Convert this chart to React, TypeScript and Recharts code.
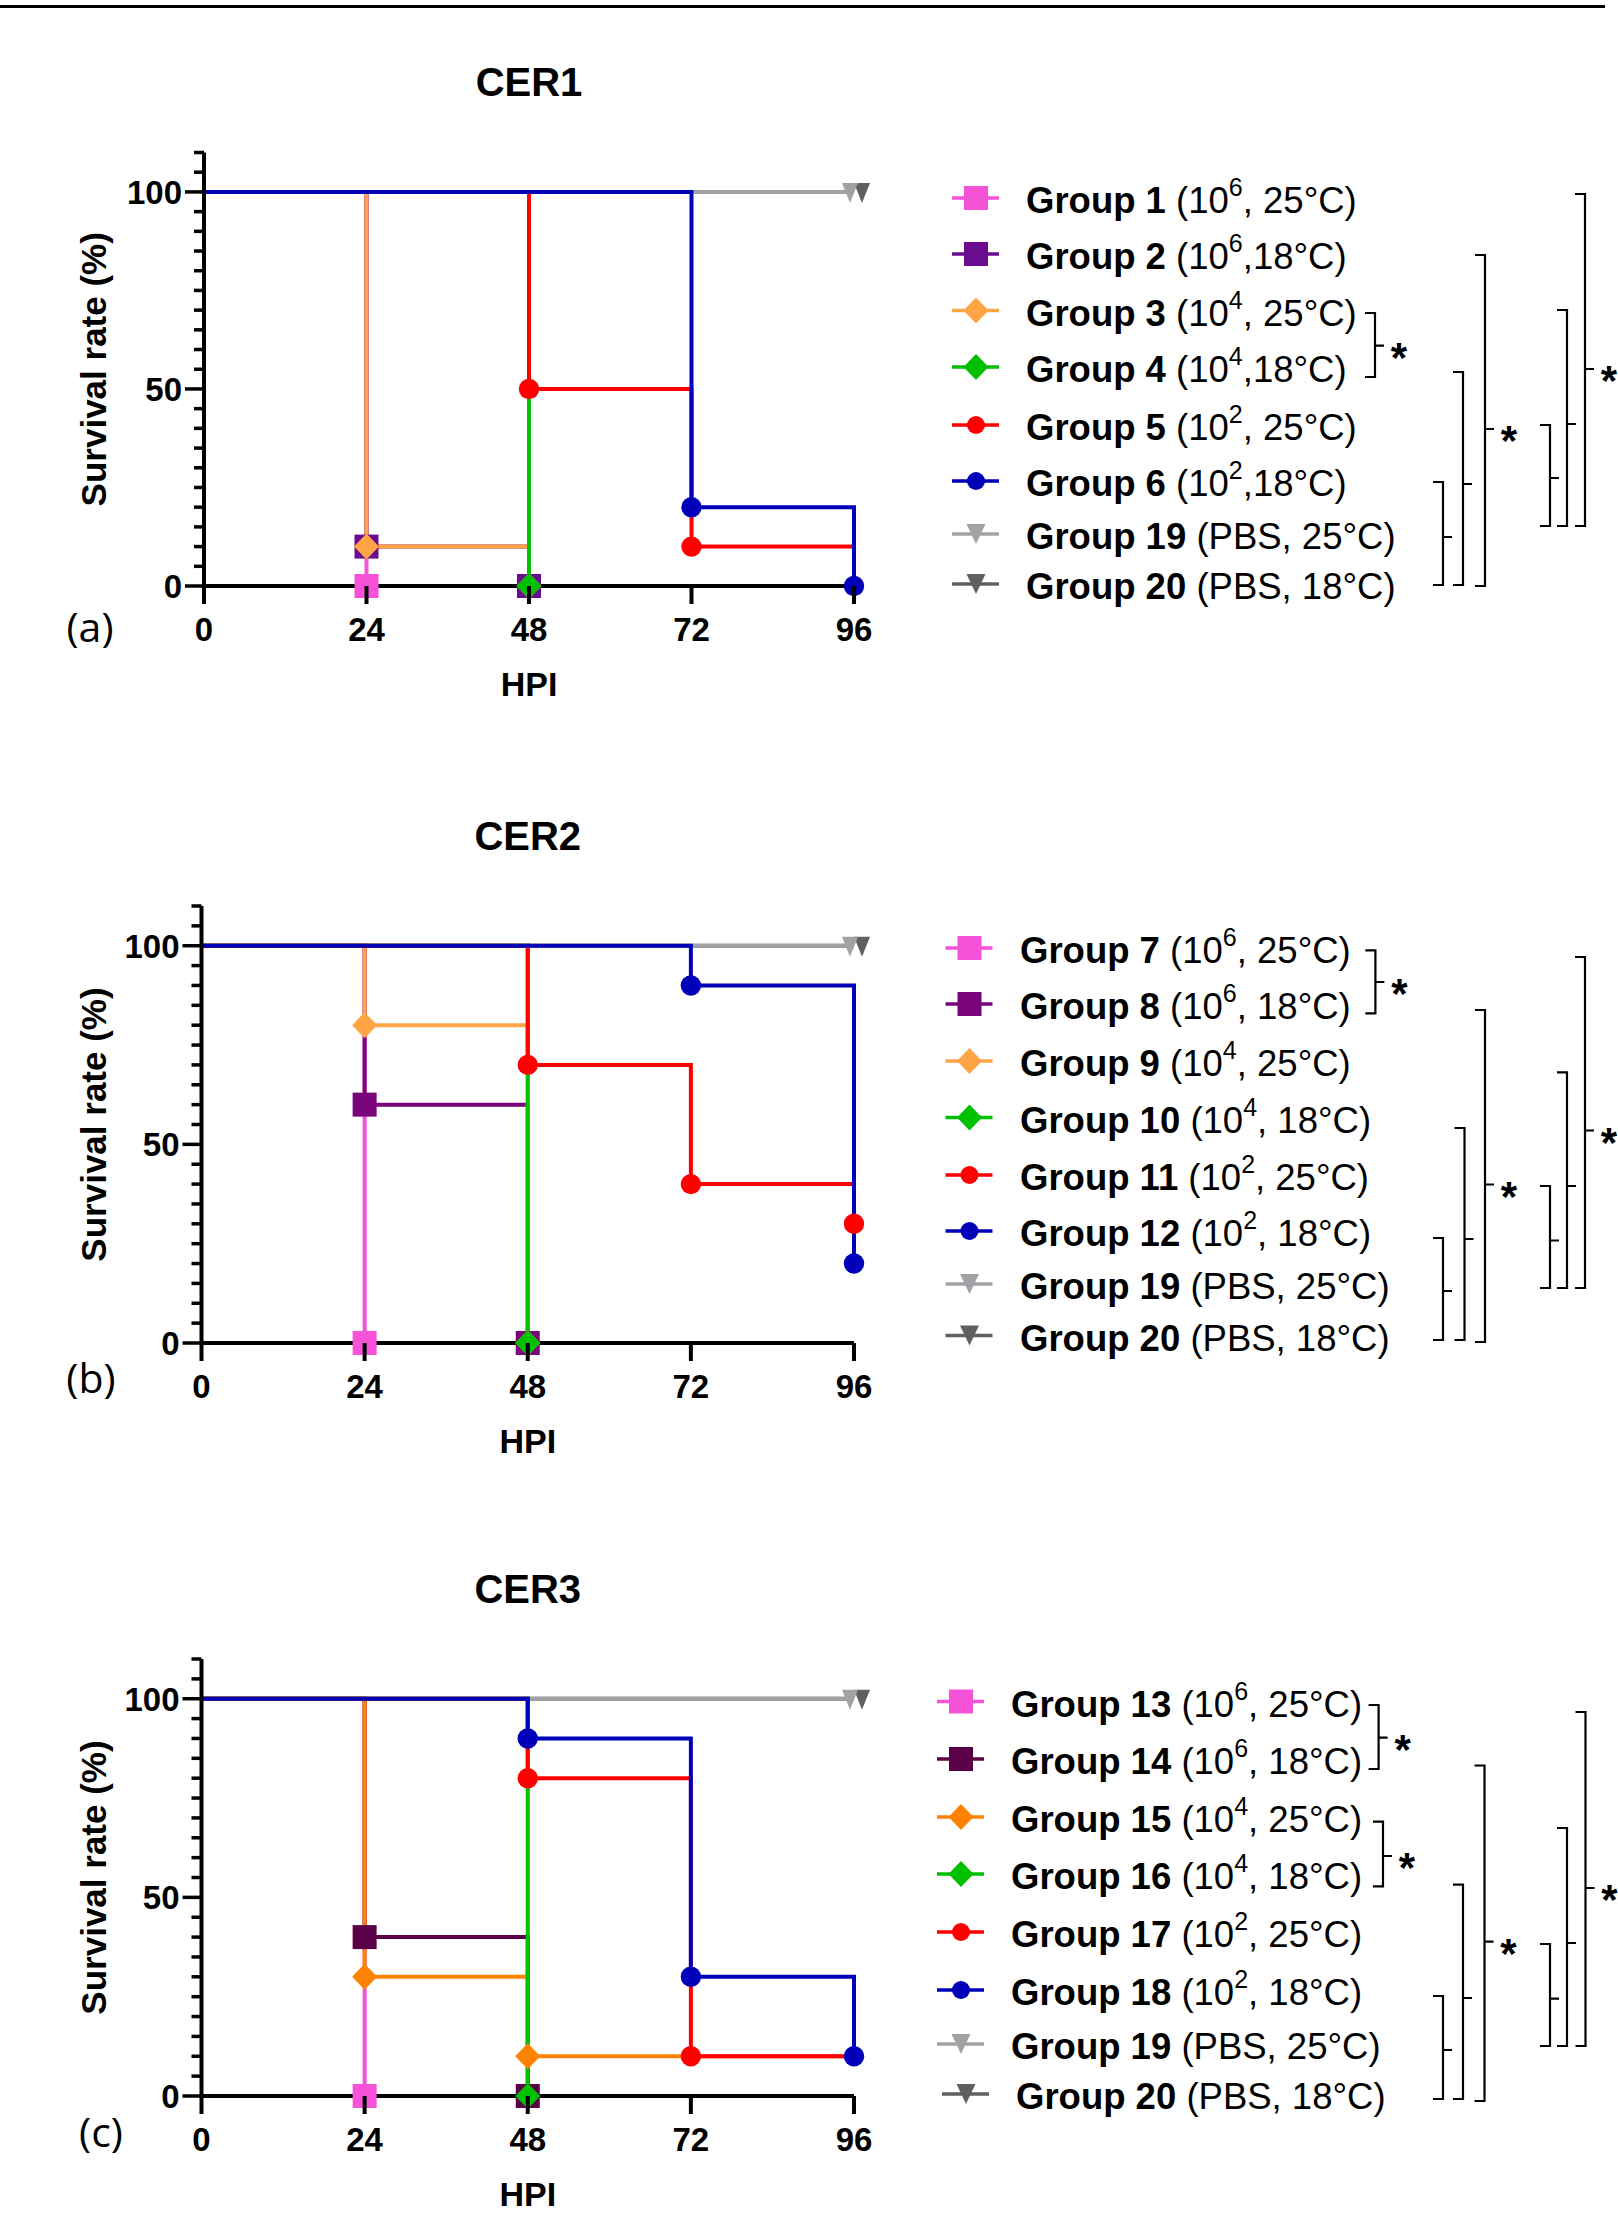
import React from 'react';
import { LineChart, Line, XAxis, YAxis, Customized } from 'recharts';

// ---------------- DATA ----------------
const HPI_TIMES = [0, 24, 48, 72, 96];
const X_TICKS = [0, 24, 48, 72, 96];
const Y_TICKS = [0, 5, 10, 15, 20, 25, 30, 35, 40, 45, 50, 55, 60, 65, 70, 75, 80, 85, 90, 95, 100, 105, 110];
const Y_LABELED_TICKS = [0, 50, 100];

const TITLES = ['CER1', 'CER2', 'CER3'];
const PANEL_LETTERS = ['(a)', '(b)', '(c)'];

// CER1
const CER1_GROUPS = ['Group 1', 'Group 2', 'Group 3', 'Group 4', 'Group 5', 'Group 6', 'Group 19', 'Group 20'];
const CER1_CONDITIONS = ['(10^6, 25°C)', '(10^6,18°C)', '(10^4, 25°C)', '(10^4,18°C)', '(10^2, 25°C)', '(10^2,18°C)', '(PBS, 25°C)', '(PBS, 18°C)'];
const CER1_SURVIVAL = [
  [100, 0, null, null, null],
  [100, 10, 0, null, null],
  [100, 10, 0, null, null],
  [100, 100, 0, null, null],
  [100, 100, 50, 10, 10],
  [100, 100, 100, 20, 0],
  [100, 100, 100, 100, 100],
  [100, 100, 100, 100, 100],
];
const CER1_MARKER_TIMES = [[24], [24, 48], [24, 48], [48], [48, 72], [72, 96], [96], [96]];

// CER2
const CER2_GROUPS = ['Group 7', 'Group 8', 'Group 9', 'Group 10', 'Group 11', 'Group 12', 'Group 19', 'Group 20'];
const CER2_CONDITIONS = ['(10^6, 25°C)', '(10^6, 18°C)', '(10^4, 25°C)', '(10^4, 18°C)', '(10^2, 25°C)', '(10^2, 18°C)', '(PBS, 25°C)', '(PBS, 18°C)'];
const CER2_SURVIVAL = [
  [100, 0, null, null, null],
  [100, 60, 0, null, null],
  [100, 80, 0, null, null],
  [100, 100, 0, null, null],
  [100, 100, 70, 40, 30],
  [100, 100, 100, 90, 20],
  [100, 100, 100, 100, 100],
  [100, 100, 100, 100, 100],
];
const CER2_MARKER_TIMES = [[24], [24, 48], [24, 48], [48], [48, 72, 96], [72, 96], [96], [96]];

// CER3
const CER3_GROUPS = ['Group 13', 'Group 14', 'Group 15', 'Group 16', 'Group 17', 'Group 18', 'Group 19', 'Group 20'];
const CER3_CONDITIONS = ['(10^6, 25°C)', '(10^6, 18°C)', '(10^4, 25°C)', '(10^4, 18°C)', '(10^2, 25°C)', '(10^2, 18°C)', '(PBS, 25°C)', '(PBS, 18°C)'];
const CER3_SURVIVAL = [
  [100, 0, null, null, null],
  [100, 40, 0, null, null],
  [100, 30, 10, 10, 10],
  [100, 100, 0, null, null],
  [100, 100, 80, 10, 10],
  [100, 100, 90, 30, 10],
  [100, 100, 100, 100, 100],
  [100, 100, 100, 100, 100],
];
const CER3_MARKER_TIMES = [[24], [24, 48], [24, 48], [48], [48, 72], [48, 72, 96], [96], [96]];

// ---------------- STYLES / LAYOUT ----------------
const FONT = "'Liberation Sans', Arial, Helvetica, sans-serif";
const CER1_COLORS = ['#F652D8', '#6A0C90', '#FFA444', '#00C000', '#FF0000', '#0000B8', '#A2A2A6', '#5F5F5F'];
const CER2_COLORS = ['#F652D8', '#7A057A', '#FFA444', '#00C000', '#FF0000', '#0000B8', '#A2A2A6', '#5F5F5F'];
const CER3_COLORS = ['#F652D8', '#5A0048', '#FF8200', '#00C000', '#FF0000', '#0000B8', '#A2A2A6', '#5F5F5F'];
const GROUP_SHAPES = ['square', 'square', 'diamond', 'diamond', 'circle', 'circle', 'tri', 'tri'];
const END_MARK_DX = [0, 0, 0, 0, 0, 0, -4, 8];
const DRAW_ORDER = [7, 6, 0, 1, 2, 3, 4, 5];

const PANELS = [
  {
    groups: CER1_GROUPS, conds: CER1_CONDITIONS, surv: CER1_SURVIVAL, marks: CER1_MARKER_TIMES, colors: CER1_COLORS,
    top: 0, height: 750, plotLeft: 204, plotRight: 854, plotTop: 152.5, plotBottom: 586,
    letter: [90, 630], iconX: 976, textX: 1026, lastShift: 0,
    rows: [200, 256, 312.5, 369, 427, 483, 536, 586],
    brackets: [
      [1375, 313, 377, 345.6, 1], [1443, 482, 585, 537, 0], [1463, 372, 585, 484, 0], [1485, 255, 586, 429, 1],
      [1550, 425, 526, 478, 0], [1567, 310, 526, 424, 0], [1585, 194, 526, 369, 1],
    ],
  },
  {
    groups: CER2_GROUPS, conds: CER2_CONDITIONS, surv: CER2_SURVIVAL, marks: CER2_MARKER_TIMES, colors: CER2_COLORS,
    top: 755, height: 750, plotLeft: 201.5, plotRight: 854, plotTop: 906, plotBottom: 1343,
    letter: [91, 1381], iconX: 969.5, textX: 1020, lastShift: 0,
    rows: [950, 1006, 1063, 1119.5, 1177, 1233, 1286, 1337.6],
    brackets: [
      [1375.4, 950.4, 1013.4, 982, 1], [1443, 1238, 1340, 1291, 0], [1464.5, 1128, 1340, 1239, 0], [1485, 1010, 1342, 1184.5, 1],
      [1550, 1186, 1288, 1240.5, 0], [1567, 1072.4, 1288, 1186, 0], [1585, 957, 1288, 1130.5, 1],
    ],
  },
  {
    groups: CER3_GROUPS, conds: CER3_CONDITIONS, surv: CER3_SURVIVAL, marks: CER3_MARKER_TIMES, colors: CER3_COLORS,
    top: 1508, height: 731, plotLeft: 201.5, plotRight: 854, plotTop: 1659, plotBottom: 2096,
    letter: [101, 2135], iconX: 961, textX: 1011, lastShift: 5,
    rows: [1703.5, 1761, 1819, 1876, 1934, 1992, 2046, 2096],
    brackets: [
      [1378.6, 1705, 1769, 1737.7, 1], [1383, 1821.6, 1886.3, 1856, 1], [1443, 1996, 2099, 2050, 0], [1463, 1884.6, 2099, 1998, 0],
      [1484.5, 1765.5, 2101, 1941.7, 1], [1550, 1944, 2046, 1998.7, 0], [1567, 1828, 2046, 1943, 0], [1585.5, 1712, 2046, 1888, 1],
    ],
  },
];

// ---------------- COMPONENTS ----------------
function Marker({ shape, x, y, color, legend }: any) {
  if (shape === 'square') {
    const s = legend ? 24 : 24;
    return <rect x={x - s / 2} y={y - s / 2} width={s} height={s} fill={color} />;
  }
  if (shape === 'diamond') {
    const w = 12.5, h = 13;
    return <polygon points={`${x},${y - h} ${x + w},${y} ${x},${y + h} ${x - w},${y}`} fill={color} />;
  }
  if (shape === 'circle') {
    return <circle cx={x} cy={y} r={legend ? 9 : 10.2} fill={color} />;
  }
  const w = legend ? 19 : 16, up = legend ? 10 : 9, dn = legend ? 10 : 11;
  return <polygon points={`${x - w / 2},${y - up} ${x + w / 2},${y - up} ${x},${y + dn}`} fill={color} />;
}

const makeDot = (k: number, color: string, shape: string, marks: number[], dx: number) => (p: any) => {
  const key = `dot-${k}-${p.index}`;
  if (p.cx == null || p.cy == null || p.payload == null || p.payload[`g${k}`] == null || !marks.includes(p.payload.t)) {
    return <g key={key} />;
  }
  return (
    <g key={key}>
      <Marker shape={shape} x={p.cx + dx} y={p.cy} color={color} />
    </g>
  );
};

const YTick = (p: any) => {
  const v = p.payload.value;
  const major = Y_LABELED_TICKS.includes(v);
  return (
    <g>
      <line x1={p.x - (major ? 19 : 10)} x2={p.x} y1={p.y} y2={p.y} stroke="#000" strokeWidth={3.5} />
      {major && (
        <text x={p.x - 22} y={p.y + 12} textAnchor="end" fontSize={33} fontWeight="bold" fontFamily={FONT} fill="#000">
          {v}
        </text>
      )}
    </g>
  );
};

const XTick = (p: any) => {
  const v = p.payload.value;
  return (
    <g>
      <line x1={p.x} x2={p.x} y1={p.y} y2={p.y + 18} stroke="#000" strokeWidth={4} />
      <text x={p.x} y={p.y + 55} textAnchor="middle" fontSize={33} fontWeight="bold" fontFamily={FONT} fill="#000">
        {v}
      </text>
    </g>
  );
};

function CondText({ cond }: { cond: string }) {
  const m = cond.match(/^(.*?)\^(\d)(.*)$/);
  if (!m) return <tspan>{' ' + cond}</tspan>;
  return (
    <>
      <tspan>{' ' + m[1]}</tspan>
      <tspan dy={-17} fontSize={25}>{m[2]}</tspan>
      <tspan dy={17}>{m[3]}</tspan>
    </>
  );
}

function Decor({ cfg, idx }: any) {
  const T = cfg.top;
  const cx = (cfg.plotLeft + cfg.plotRight) / 2;
  const y100 = cfg.plotBottom - ((cfg.plotBottom - cfg.plotTop) * 100) / 110;
  const yMid = (cfg.plotTop + cfg.plotBottom) / 2 - T;
  return (
    <g fontFamily={FONT}>
      <text x={cx} y={y100 - 110 + 14 - T} textAnchor="middle" fontSize={40} fontWeight="bold" fill="#000">
        {TITLES[idx]}
      </text>
      <text x={cx} y={cfg.plotBottom + 98 + 12 - T} textAnchor="middle" fontSize={34} fontWeight="bold" fill="#000">
        HPI
      </text>
      <text
        x={106}
        y={yMid}
        transform={`rotate(-90, 106, ${yMid})`}
        textAnchor="middle"
        fontSize={35}
        fontWeight="bold"
        fill="#000"
      >
        Survival rate (%)
      </text>
      <text x={cfg.letter[0]} y={cfg.letter[1] + 12 - T} textAnchor="middle" fontSize={41} fontFamily="'Open Sans', 'Noto Sans', sans-serif" fill="#000">
        {PANEL_LETTERS[idx]}
      </text>
      {cfg.groups.map((g: string, i: number) => {
        const ry = cfg.rows[i] - T;
        const shift = i === 7 ? cfg.lastShift : 0;
        const ix = cfg.iconX + shift;
        return (
          <g key={g}>
            <line x1={ix - 24} x2={ix + 23} y1={ry - 2} y2={ry - 2} stroke={cfg.colors[i]} strokeWidth={3.5} />
            <Marker shape={GROUP_SHAPES[i]} x={ix} y={ry - 2} color={cfg.colors[i]} legend />
            <text x={cfg.textX + shift} y={ry + 13} fontSize={36.5} fill="#000">
              <tspan fontWeight="bold">{g}</tspan>
              <CondText cond={cfg.conds[i]} />
            </text>
          </g>
        );
      })}
      {cfg.brackets.map((b: number[], i: number) => {
        const [vx, y1, y2, mid, star] = b;
        return (
          <g key={`b${i}`}>
            <path
              d={`M${vx - 10},${y1 - T} H${vx} V${y2 - T} H${vx - 10} M${vx},${mid - T} H${vx + 9}`}
              stroke="#000"
              strokeWidth={2.2}
              fill="none"
            />
            {star ? (
              <text x={vx + 24} y={mid + 26 - T} textAnchor="middle" fontSize={42} fontWeight="bold" fill="#000">
                *
              </text>
            ) : null}
          </g>
        );
      })}
    </g>
  );
}

function Panel({ idx }: { idx: number }) {
  const cfg = PANELS[idx];
  const data = HPI_TIMES.map((t, i) => {
    const row: any = { t };
    cfg.surv.forEach((s, k) => {
      row[`g${k}`] = s[i];
    });
    return row;
  });
  const margin = {
    top: cfg.plotTop - cfg.top,
    left: cfg.plotLeft - 1,
    right: 1618 - cfg.plotRight,
    bottom: cfg.top + cfg.height - cfg.plotBottom - 1,
  };
  return (
    <div style={{ position: 'absolute', left: 0, top: cfg.top }}>
      <LineChart width={1618} height={cfg.height} data={data} margin={margin}>
        <XAxis
          dataKey="t"
          type="number"
          domain={[0, 96]}
          ticks={X_TICKS}
          interval={0}
          height={1}
          tickSize={0}
          tickMargin={0}
          tickLine={false}
          axisLine={{ stroke: '#000', strokeWidth: 4 }}
          tick={<XTick />}
        />
        <YAxis
          type="number"
          domain={[0, 110]}
          ticks={Y_TICKS}
          interval={0}
          width={1}
          tickSize={0}
          tickMargin={0}
          tickLine={false}
          axisLine={{ stroke: '#000', strokeWidth: 4 }}
          tick={<YTick />}
        />
        {DRAW_ORDER.map((k) => (
          <Line
            key={k}
            type="stepAfter"
            dataKey={`g${k}`}
            stroke={cfg.colors[k]}
            strokeWidth={4}
            dot={makeDot(k, cfg.colors[k], GROUP_SHAPES[k], cfg.marks[k], END_MARK_DX[k])}
            activeDot={false}
            connectNulls={false}
            isAnimationActive={false}
          />
        ))}
        <Customized component={<Decor cfg={cfg} idx={idx} />} />
      </LineChart>
    </div>
  );
}

export default function App() {
  return (
    <div style={{ position: 'absolute', left: 0, top: 0, width: 1618, height: 2239, background: '#fff', overflow: 'hidden' }}>
      <div style={{ position: 'absolute', left: 0, top: 5, width: 1605, height: 3, background: '#000' }} />
      <Panel idx={0} />
      <Panel idx={1} />
      <Panel idx={2} />
    </div>
  );
}
